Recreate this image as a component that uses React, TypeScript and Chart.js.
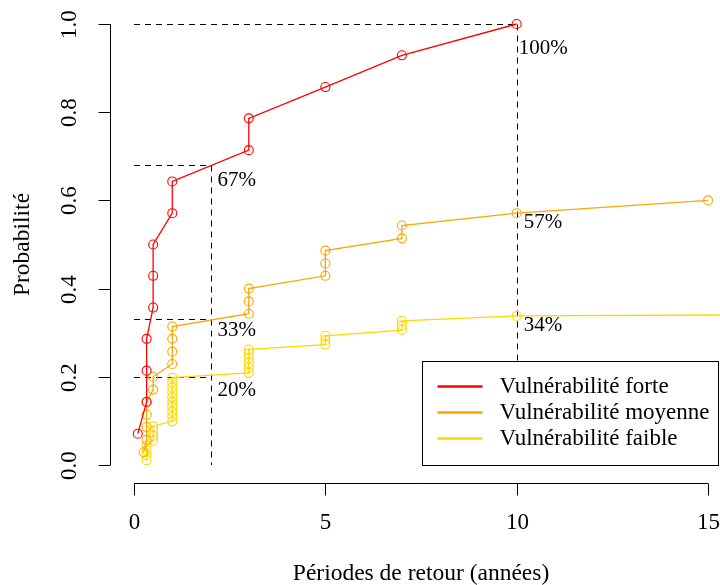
import React, { useEffect, useRef } from "react";
import { Chart, registerables } from "chart.js";

Chart.register(...registerables);

// ---- Data ----
const forteX = [0.1, 0.33, 0.33, 0.33, 0.5, 0.5, 0.5, 1, 1, 3, 3, 5, 7, 10];
const forteY = [0.071, 0.143, 0.214, 0.286, 0.357, 0.429, 0.5, 0.571, 0.643, 0.714, 0.786, 0.857, 0.929, 1.0];

const moyenneX = [0.25, 0.33, 0.33, 0.33, 0.33, 0.5, 0.5, 1, 1, 1, 1, 3, 3, 3, 5, 5, 5, 7, 7, 10, 15];
const moyenneY = [0.029, 0.057, 0.086, 0.114, 0.143, 0.171, 0.2, 0.229, 0.257, 0.286, 0.314, 0.343, 0.371, 0.4, 0.429, 0.457, 0.486, 0.514, 0.543, 0.571, 0.6];

const faibleX = [0.33, 0.33, 0.33, 0.33, 0.5, 0.5, 0.5, 0.5, 1, 1, 1, 1, 1, 1, 1, 1, 1, 1, 3, 3, 3, 3, 3, 3, 5, 5, 5, 7, 7, 7, 10, 20];
const faibleY = [0.011, 0.022, 0.033, 0.044, 0.055, 0.066, 0.077, 0.088, 0.099, 0.11, 0.121, 0.132, 0.143, 0.154, 0.165, 0.176, 0.187, 0.198, 0.209, 0.22, 0.231, 0.242, 0.253, 0.262, 0.273, 0.283, 0.293, 0.306, 0.316, 0.327, 0.338, 0.342];

const seriesLabels = ["Vulnérabilité forte", "Vulnérabilité moyenne", "Vulnérabilité faible"];
const seriesColors = ["#FF0000", "#FFA500", "#FFD700"];

const xTicks = [0, 5, 10, 15];
const yTicks = [0, 0.2, 0.4, 0.6, 0.8, 1.0];
const yTickLabels = ["0.0", "0.2", "0.4", "0.6", "0.8", "1.0"];

// reference (dashed) lines: horizontal from x=0 to refX at level refY, vertical at refX from refY to 0
const refX = [10, 2, 2, 2];
const refY = [1.0, 0.68, 0.33, 0.2];
const refVertical = [true, true, false, false];

// annotations
const noteText = ["100%", "67%", "33%", "20%", "57%", "34%"];
const noteX = [9.87, 2, 2, 2, 10, 10];
const noteY = [0.945, 0.645, 0.306, 0.168, 0.549, 0.317];

const xTitle = "Périodes de retour (années)";
const yTitle = "Probabilité";

const FONT = "'Liberation Serif', 'DejaVu Serif', serif";

function pts(xs: number[], ys: number[]) {
  return xs.map((x, i) => ({ x, y: ys[i] }));
}

const rPlot = {
  id: "rplot",
  beforeDatasetsDraw(chart: any) {
    const { ctx } = chart;
    const xs = chart.scales.x;
    const ys = chart.scales.y;
    ctx.save();
    ctx.strokeStyle = "#000";
    ctx.lineWidth = 1;
    ctx.setLineDash([6, 5]);
    for (let i = 0; i < refX.length; i++) {
      const x0 = xs.getPixelForValue(0);
      const x1 = Math.round(xs.getPixelForValue(refX[i])) + 0.5;
      const y1 = Math.round(ys.getPixelForValue(refY[i])) + 0.5;
      ctx.beginPath();
      ctx.moveTo(x0, y1);
      ctx.lineTo(x1, y1);
      ctx.stroke();
      if (refVertical[i]) {
        ctx.beginPath();
        ctx.moveTo(x1, y1);
        ctx.lineTo(x1, ys.getPixelForValue(0));
        ctx.stroke();
      }
    }
    ctx.restore();
  },
  afterDraw(chart: any) {
    const { ctx, chartArea } = chart;
    const xs = chart.scales.x;
    const ys = chart.scales.y;
    ctx.save();
    ctx.strokeStyle = "#000";
    ctx.fillStyle = "#000";
    ctx.lineWidth = 1;
    ctx.setLineDash([]);

    // x axis
    const axY = Math.round(chartArea.bottom) + 0.5;
    ctx.beginPath();
    ctx.moveTo(xs.getPixelForValue(xTicks[0]), axY);
    ctx.lineTo(xs.getPixelForValue(xTicks[xTicks.length - 1]), axY);
    ctx.stroke();
    ctx.font = `23px ${FONT}`;
    ctx.textAlign = "center";
    ctx.textBaseline = "middle";
    xTicks.forEach((t) => {
      const px = Math.round(xs.getPixelForValue(t)) + 0.5;
      ctx.beginPath();
      ctx.moveTo(px, axY);
      ctx.lineTo(px, axY + 12);
      ctx.stroke();
      ctx.fillText(String(t), px, axY + 39);
    });

    // y axis
    const axX = Math.round(chartArea.left) - 0.5;
    ctx.beginPath();
    ctx.moveTo(axX, ys.getPixelForValue(yTicks[0]));
    ctx.lineTo(axX, ys.getPixelForValue(yTicks[yTicks.length - 1]));
    ctx.stroke();
    yTicks.forEach((t, i) => {
      const py = Math.round(ys.getPixelForValue(t)) + 0.5;
      ctx.beginPath();
      ctx.moveTo(axX, py);
      ctx.lineTo(axX - 12, py);
      ctx.stroke();
      ctx.save();
      ctx.translate(axX - 41, py);
      ctx.rotate(-Math.PI / 2);
      ctx.fillText(yTickLabels[i], 0, 0);
      ctx.restore();
    });

    // titles
    ctx.font = `23.5px ${FONT}`;
    ctx.fillText(xTitle, (chartArea.left + xs.getPixelForValue(15.6)) / 2, 574);
    ctx.save();
    ctx.translate(23, (chartArea.top + chartArea.bottom) / 2);
    ctx.rotate(-Math.PI / 2);
    ctx.fillText(yTitle, 0, 0);
    ctx.restore();

    // annotations
    ctx.font = `21px ${FONT}`;
    ctx.textAlign = "left";
    for (let i = 0; i < noteText.length; i++) {
      ctx.fillText(noteText[i], xs.getPixelForValue(noteX[i]) + 7, ys.getPixelForValue(noteY[i]));
    }

    // legend
    const lx = 422.5, ly = 361.5, lw = 296, lh = 104;
    ctx.fillStyle = "#fff";
    ctx.fillRect(lx, ly, lw, lh);
    ctx.strokeStyle = "#000";
    ctx.lineWidth = 1;
    ctx.strokeRect(lx, ly, lw, lh);
    ctx.font = `23px ${FONT}`;
    ctx.textBaseline = "middle";
    chart.data.datasets.forEach((ds: any, i: number) => {
      const yy = ly + 25 + i * 26;
      ctx.strokeStyle = ds.borderColor;
      ctx.lineWidth = 2.5;
      ctx.beginPath();
      ctx.moveTo(lx + 15, yy);
      ctx.lineTo(lx + 60, yy);
      ctx.stroke();
      ctx.fillStyle = "#000";
      ctx.fillText(ds.label, lx + 77, yy);
    });
    ctx.restore();
  },
};

export default function App() {
  const ref = useRef<HTMLCanvasElement | null>(null);
  useEffect(() => {
    if (!ref.current) return;
    const pxPerUnit = 38.27;
    const x0px = 134;
    const xMin = -0.6;
    const xMax = (720 - x0px) / pxPerUnit;
    const datasets = [
      [forteX, forteY],
      [moyenneX, moyenneY],
      [faibleX, faibleY],
    ].map(([xs, ys], i) => ({
      label: seriesLabels[i],
      data: pts(xs as number[], ys as number[]),
      showLine: true,
      borderColor: seriesColors[i],
      borderWidth: 1.3,
      pointRadius: 4.5,
      pointBorderWidth: 1.1,
      pointBorderColor: seriesColors[i],
      pointBackgroundColor: "rgba(0,0,0,0)",
      pointStyle: "circle",
      tension: 0,
    }));
    const chart = new Chart(ref.current, {
      type: "scatter",
      data: { datasets },
      options: {
        animation: false,
        responsive: false,
        devicePixelRatio: 1,
        layout: {
          autoPadding: false,
          padding: { left: x0px + xMin * pxPerUnit, right: 0, top: 24 - 0.04 * 441, bottom: 585 - (465 + 0.04 * 441) },
        },
        scales: {
          x: { type: "linear", min: xMin, max: xMax, display: false },
          y: { type: "linear", min: -0.04, max: 1.04, display: false },
        },
        plugins: { legend: { display: false }, tooltip: { enabled: false } },
      },
      plugins: [rPlot],
    } as any);
    return () => chart.destroy();
  }, []);
  return (
    <div style={{ position: "absolute", left: 0, top: 0, width: 720, height: 585, background: "#fff" }}>
      <canvas ref={ref} width={720} height={585} />
    </div>
  );
}
